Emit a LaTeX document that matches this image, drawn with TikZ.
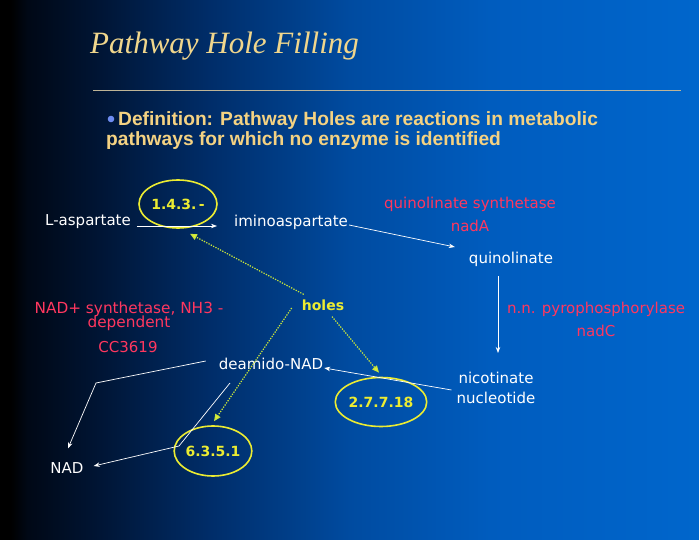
\documentclass[tikz,border=0pt]{standalone}
\usepackage{fontspec}
\usetikzlibrary{arrows.meta,shapes.geometric}
\newfontfamily\titlefont{Liberation Serif}
\newfontfamily\deffont{Liberation Sans}
\newfontfamily\labfont{DejaVu Sans}
\newcommand\tightskip{\lineskiplimit=-20pt\relax}
\definecolor{slidegold}{RGB}{240,214,140}
\definecolor{defgold}{RGB}{244,210,130}
\definecolor{hiyellow}{RGB}{236,236,50}
\definecolor{dotgreen}{RGB}{200,230,60}
\definecolor{enzred}{RGB}{255,55,95}
\definecolor{rulebeige}{RGB}{190,180,150}
\definecolor{bulletblue}{RGB}{110,140,240}
\definecolor{bgA}{RGB}{0,8,22}
\definecolor{bgB}{RGB}{0,22,55}
\definecolor{bgC}{RGB}{0,45,105}
\definecolor{bgD}{RGB}{0,75,160}
\definecolor{bgE}{RGB}{0,92,190}
\definecolor{bgF}{RGB}{0,102,204}
\pgfdeclarehorizontalshading{slidebg}{100bp}{color(0bp)=(black); color(25.75bp)=(black); color(27bp)=(bgA); color(32.5bp)=(bgB); color(40bp)=(bgC); color(50bp)=(bgD); color(60bp)=(bgE); color(75bp)=(bgF); color(100bp)=(bgF)}
\begin{document}
\begin{tikzpicture}[x=1pt,y=-1pt,
    metab/.style={font=\labfont\fontsize{15}{20}\selectfont,text=white,align=center,inner sep=1pt},
    enz/.style={metab,text=enzred,font=\labfont\fontsize{15}{23}\selectfont},
    ec/.style={ellipse,draw=hiyellow,line width=1.6pt,text=hiyellow,inner sep=0pt,
        font=\labfont\bfseries\fontsize{14}{16}\selectfont},
    react/.style={white,line width=0.7pt,-{Stealth[length=6pt,width=4.5pt]}},
    hole/.style={dotgreen,line width=1.2pt,dash pattern=on 1.3pt off 1.3pt,
        -{Triangle[length=7pt,width=6pt,fill=hiyellow]}}]
    \useasboundingbox (0,0) rectangle (699,540);
    \shade[shading=slidebg] (0,0) rectangle (699,540);
    \node[anchor=base west,inner sep=0pt,text=slidegold,font=\titlefont\itshape\fontsize{31}{34}\selectfont] (title) at (90,54) {Pathway Hole Filling};
    \draw[rulebeige,line width=0.8pt] (93,90) -- (681,90);
    \fill[bulletblue] (111,119) circle (3.3);
    \node[anchor=base west,inner sep=0pt,text=defgold,font=\deffont\bfseries\fontsize{19.2}{21}\selectfont] (def1) at (118,126) {Definition: Pathway Holes are reactions in metabolic};
    \node[anchor=base west,inner sep=0pt,text=defgold,font=\deffont\bfseries\fontsize{19.2}{21}\selectfont] (def2) at (106,146) {pathways for which no enzyme is identified};
    \node[metab] (asp) at (88,222) {L-aspartate};
    \node[metab] (imino) at (291,222) {iminoaspartate};
    \node[metab] (quin) at (511,259) {quinolinate};
    \node[metab] (nic) at (496,388) {nicotinate\\nucleotide};
    \node[metab] (deam) at (271,364) {deamido-NAD};
    \node[metab] (nad) at (67,468) {NAD};
    \node[ec,minimum width=78pt,minimum height=48pt] (ec1) at (178,204) {1.4.3.\,-};
    \node[ec,minimum width=74pt,minimum height=49pt] (ec2) at (381,402) {2.7.7.18};
    \node[ec,minimum width=76pt,minimum height=50pt] (ec3) at (213,451) {6.3.5.1};
    \node[text=hiyellow,inner sep=1pt,font=\labfont\bfseries\fontsize{14}{16}\selectfont] (holes) at (323,305) {holes};
    \node[enz] (nadA) at (470,214.5) {quinolinate synthetase\\nadA};
    \node[enz] (nadC) at (596,319.5) {n.n. pyrophosphorylase\\nadC};
    \node[enz,font=\labfont\fontsize{15.3}{14}\selectfont\tightskip] (nadE) at (129,316.5) {NAD+ synthetase, NH3 -\\dependent};
    \node[enz] (cc) at (128,347) {CC3619};
    \coordinate (bendA) at (96,383);
    \coordinate (bendB) at (179,446);
    \draw[react] ([xshift=5pt,yshift=-4pt]asp.east) -- ([xshift=-16pt,yshift=-4pt]imino.west);
    \draw[react] ([yshift=-3pt]imino.east) -- ([xshift=-13pt,yshift=12pt]quin.west);
    \draw[react] ([xshift=-13pt,yshift=-9pt]quin.south) -- ([xshift=2pt,yshift=18pt]nic.north);
    \draw[react] ([xshift=-4pt,yshift=-2pt]nic.west) -- ([yshift=-4pt]deam.east);
    \draw[react] ([xshift=-12pt,yshift=3pt]deam.west) -- (bendA) -- ([xshift=1pt,yshift=13pt]nad.north);
    \draw[react] ([xshift=-41pt,yshift=-12pt]deam.south) -- (bendB) -- ([xshift=9pt,yshift=2pt]nad.east);
    \draw[hole] ([xshift=3pt,yshift=4pt]holes.north west) -- ([xshift=12pt,yshift=-5pt]ec1.south);
    \draw[hole] ([xshift=9pt,yshift=-5pt]holes.south) -- ([xshift=-2pt,yshift=4pt]ec2.north);
    \draw[hole] ([xshift=-9pt,yshift=-3pt]holes.west) -- ([xshift=1pt,yshift=4pt]ec3.north);
\end{tikzpicture}
\end{document}
